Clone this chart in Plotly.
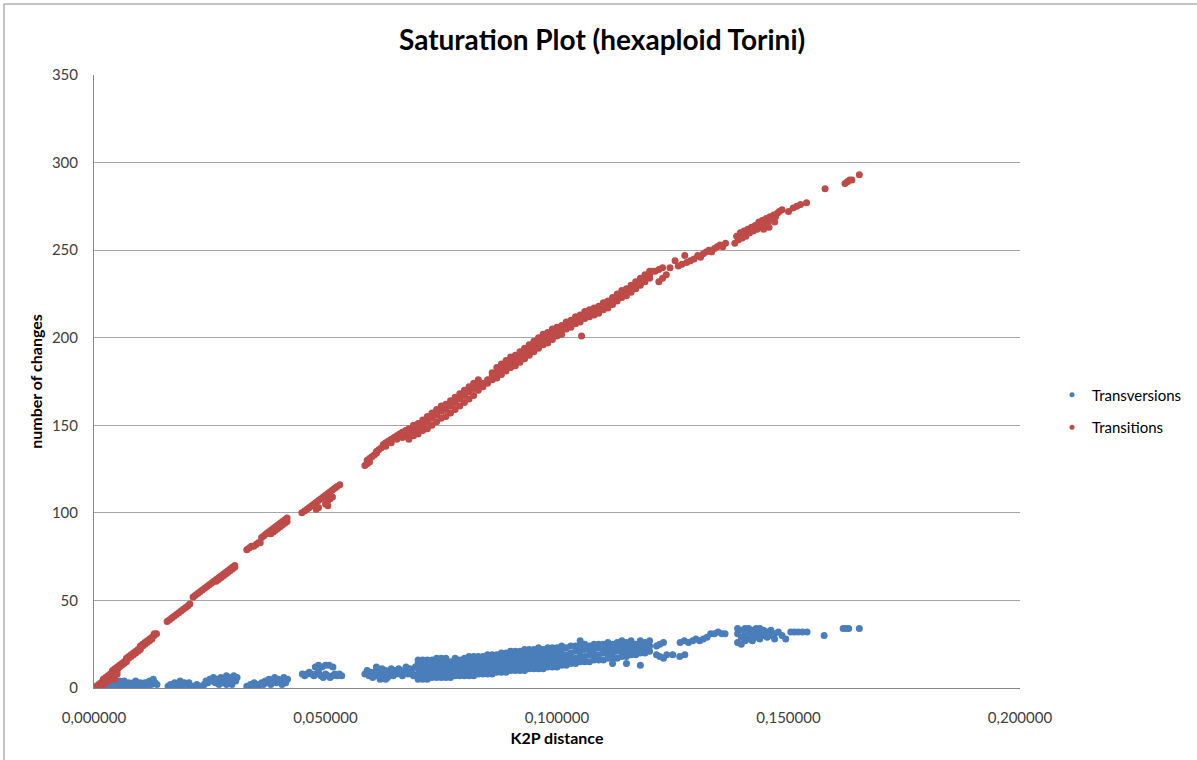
import plotly.graph_objects as go

# ---------------- data ----------------
# Each entry: (K2P distance, [number of changes observed at that distance])
transitions_cols = [
    (0.0000, [0]), (0.0005, [0, 1]), (0.0010, [1, 2]), (0.0015, [2, 3, 1]), (0.0020, [4, 5, 2]),
    (0.0025, [5, 6, 3]), (0.0030, [6, 7, 4]), (0.0035, [7, 8, 5]), (0.0040, [8, 9, 10, 6]),
    (0.0045, [9, 10, 11, 5]), (0.0050, [10, 11, 12, 8]), (0.0055, [12, 13]), (0.0060, [13, 14]),
    (0.0065, [14, 15]), (0.0070, [15, 16, 17]), (0.0075, [17, 18]), (0.0080, [18, 19]),
    (0.0085, [19, 20]), (0.0090, [20, 21]), (0.0095, [21, 22]), (0.0100, [22, 23, 24]),
    (0.0105, [24, 25]), (0.0110, [25, 26]), (0.0115, [26, 27]), (0.0120, [27, 28]),
    (0.0125, [28, 29]), (0.0130, [30, 31]), (0.0135, [31]),
    (0.0158, [38]), (0.0163, [39]), (0.0168, [40]), (0.0173, [41]), (0.0178, [42]), (0.0183, [43]),
    (0.0188, [44]), (0.0193, [45]), (0.0198, [46]), (0.0203, [47]), (0.0207, [48]),
    (0.0214, [52]), (0.0219, [53]), (0.0224, [54]), (0.0229, [55]), (0.0234, [56]), (0.0239, [57]),
    (0.0244, [58]), (0.0249, [59]), (0.0254, [60]), (0.0259, [61]), (0.0264, [62, 61]),
    (0.0269, [63, 62]), (0.0274, [64, 63]), (0.0279, [65, 64]), (0.0284, [66, 65]),
    (0.0289, [67, 66]), (0.0294, [68, 67]), (0.0299, [69, 68]), (0.0304, [70, 69]),
    (0.0330, [79]), (0.0335, [80]), (0.0340, [81]), (0.0345, [81]), (0.0350, [82]), (0.0355, [83]),
    (0.0359, [83]),
    (0.0362, [86]), (0.0367, [87]), (0.0372, [88]), (0.0377, [89]), (0.0382, [90, 88]),
    (0.0387, [91, 89]), (0.0392, [92, 90]), (0.0397, [93, 91]), (0.0402, [94, 92]),
    (0.0407, [95, 93]), (0.0412, [96, 94]), (0.0417, [97, 95]),
    (0.0449, [100]), (0.0455, [101]), (0.0460, [102]), (0.0465, [103]), (0.0470, [104]),
    (0.0475, [105]), (0.0480, [106, 102]), (0.0485, [107, 103]), (0.0490, [108]), (0.0495, [109]),
    (0.0500, [110, 105]), (0.0505, [111, 104, 107]), (0.0510, [112, 108]), (0.0515, [113, 109]),
    (0.0520, [114]), (0.0525, [115]), (0.0531, [116]),
    (0.0585, [127]), (0.0590, [128, 130]), (0.0595, [131, 129]), (0.0600, [132]), (0.0605, [133]),
    (0.0610, [134, 135]), (0.0615, [136]), (0.0620, [137]),
    (0.0625, [139]), (0.0630, [140, 138]), (0.0636, [141]), (0.0642, [142, 140]), (0.0648, [143]),
    (0.0654, [144, 142]), (0.0660, [145]), (0.0666, [146, 143]), (0.0673, [147, 144]),
    (0.068, [142, 145, 148]), (0.069, [144, 147, 150]), (0.070, [145, 148, 151]),
    (0.071, [147, 150, 153]), (0.072, [148, 152, 155]), (0.073, [150, 154, 157]),
    (0.074, [152, 156, 159]), (0.075, [154, 158, 161]), (0.076, [155, 159, 162]),
    (0.077, [157, 161, 164]), (0.078, [159, 163, 166]), (0.079, [161, 165, 168]),
    (0.080, [163, 167, 170]), (0.081, [165, 169, 172]), (0.082, [167, 171, 174]),
    (0.083, [170, 173, 176]), (0.084, [172, 174]), (0.085, [174, 176]),
    (0.086, [176, 178, 180]), (0.087, [177, 180, 183]), (0.088, [179, 182, 185]),
    (0.089, [181, 184, 187]), (0.090, [183, 186, 189]), (0.091, [184, 187, 190]),
    (0.092, [186, 189, 192]), (0.093, [188, 191, 194]), (0.094, [190, 193, 196]),
    (0.095, [192, 195, 198]), (0.096, [194, 197, 200]), (0.097, [196, 199, 202]),
    (0.098, [197, 200, 203]), (0.099, [199, 202, 205]), (0.100, [201, 204, 206]),
    (0.101, [202, 205, 207]), (0.102, [205, 207, 209]), (0.103, [206, 208, 210]),
    (0.104, [208, 210, 212]), (0.105, [209, 211, 213]), (0.1053, [201]),
    (0.106, [211, 213, 215]), (0.107, [212, 214, 216]), (0.108, [213, 215, 217]),
    (0.109, [214, 216, 218]), (0.110, [216, 218, 220]), (0.111, [217, 219, 221]),
    (0.112, [219, 221, 223]), (0.113, [221, 223, 225]), (0.114, [223, 225, 227]),
    (0.115, [224, 226, 228]), (0.116, [226, 228, 230]), (0.117, [228, 230, 232]),
    (0.118, [230, 232, 234]), (0.119, [232, 234, 236]), (0.120, [234, 236, 238]),
    (0.1205, [238]), (0.1212, [238]), (0.1220, [239, 232]), (0.1228, [240, 234]),
    (0.1236, [236]), (0.1244, [240]), (0.1255, [244]), (0.1262, [241]), (0.1270, [242]),
    (0.1276, [247]), (0.1280, [243]), (0.1288, [244]), (0.1296, [245]), (0.1304, [247]),
    (0.1310, [246]), (0.1316, [248]), (0.1322, [249]), (0.1328, [250]), (0.1334, [249]),
    (0.1340, [251]), (0.1346, [252]), (0.1352, [253]), (0.1358, [252]), (0.1364, [254]),
    (0.1384, [254]), (0.1388, [258]), (0.1392, [256]), (0.1396, [260]), (0.1400, [257]),
    (0.1404, [261]), (0.1408, [258]), (0.1412, [262]), (0.1416, [260]), (0.1420, [263]),
    (0.1424, [261]), (0.1428, [264]), (0.1432, [262]), (0.1436, [266]), (0.1440, [263]),
    (0.1444, [267]), (0.1446, [262]), (0.1448, [265]), (0.1452, [268]), (0.1456, [266]),
    (0.1458, [263]), (0.1460, [269]), (0.1464, [268]), (0.1468, [270]), (0.1470, [266]),
    (0.1472, [269]), (0.1476, [271]), (0.1480, [272]), (0.1486, [273]),
    (0.1500, [272]), (0.1510, [274]), (0.1518, [275]), (0.1526, [276]), (0.1539, [277]),
    (0.1579, [285]), (0.1622, [288]), (0.1627, [289]), (0.1632, [290]), (0.1637, [290]),
    (0.1653, [293]),
]

transversions_cols = [
    (0.0020, [1]), (0.0025, [0, 3]), (0.0030, [2, 4]), (0.0035, [1]), (0.0040, [0, 3]),
    (0.0045, [5, 2]), (0.0048, [3]), (0.0050, [1]), (0.0055, [2, 4]), (0.0060, [0, 3]),
    (0.0065, [1, 4]), (0.0070, [2]), (0.0075, [0, 3]), (0.0080, [1]), (0.0085, [3]),
    (0.0090, [2, 4]), (0.0095, [0]), (0.0100, [1, 3]), (0.0105, [2]), (0.0110, [1, 3]),
    (0.0115, [3]), (0.0120, [4, 2]), (0.0124, [2]), (0.0128, [5]), (0.0132, [3]), (0.0136, [2]),
    (0.0160, [1]), (0.0165, [2]), (0.0170, [0]), (0.0174, [3]), (0.0178, [1]), (0.0182, [2]),
    (0.0186, [4]), (0.0190, [1]), (0.0195, [3]), (0.0200, [2]), (0.0205, [3]), (0.0207, [1]),
    (0.0214, [1]), (0.0218, [0]), (0.0222, [2]), (0.0226, [0]), (0.0230, [1]), (0.0234, [0]),
    (0.0238, [2]), (0.0242, [4]), (0.0246, [3]), (0.0250, [5]), (0.0254, [4]), (0.0258, [6]),
    (0.0262, [3]), (0.0266, [5]), (0.0270, [4, 2]), (0.0274, [6]), (0.0278, [3]), (0.0282, [5]),
    (0.0286, [7, 2]), (0.0290, [4]), (0.0294, [6]), (0.0298, [5, 2]), (0.0302, [7]),
    (0.0306, [4]), (0.0309, [6]),
    (0.0330, [1]), (0.0334, [0]), (0.0338, [2]), (0.0342, [1]), (0.0346, [3]), (0.0350, [2]),
    (0.0354, [0]), (0.0358, [2]),
    (0.0362, [3]), (0.0366, [2]), (0.0370, [4]), (0.0374, [3]), (0.0378, [5]), (0.0382, [2]),
    (0.0386, [4]), (0.0390, [6]), (0.0394, [3]), (0.0398, [5]), (0.0402, [4]), (0.0406, [2]),
    (0.0410, [6]), (0.0414, [3]), (0.0418, [5]),
    (0.0450, [8]), (0.0455, [7]), (0.0460, [8]), (0.0465, [9]), (0.0470, [8]), (0.0475, [7]),
    (0.0478, [12]), (0.0480, [8]), (0.0485, [9, 13]), (0.0490, [7]), (0.0492, [12]),
    (0.0495, [6]), (0.0500, [8, 13]), (0.0505, [7]), (0.0508, [13]), (0.0510, [6]),
    (0.0515, [7]), (0.0516, [12]), (0.0520, [8]), (0.0525, [7]), (0.0530, [8]), (0.0535, [7]),
    (0.0585, [8]), (0.0590, [10]), (0.0594, [7]), (0.0598, [9]), (0.0602, [6]), (0.0606, [8]),
    (0.0610, [10, 12]), (0.0614, [7]), (0.0618, [9, 5]), (0.0622, [11]), (0.0626, [8]),
    (0.0630, [10, 5]), (0.0634, [6]), (0.0638, [9]), (0.0642, [11]), (0.0646, [7]),
    (0.0650, [10]), (0.0654, [8]), (0.0658, [11]), (0.0662, [9]), (0.0666, [7]),
    (0.0670, [10]), (0.0674, [12]), (0.0678, [8]), (0.0682, [11]), (0.0686, [9]),
    (0.0690, [7]), (0.0694, [12]),
    (0.0700, [5, 8, 11, 14, 16]), (0.0710, [5, 8, 11, 14, 16]), (0.0720, [5, 8, 11, 14, 16]),
    (0.0730, [6, 9, 12, 14, 16]), (0.0740, [6, 9, 12, 15, 17]), (0.0750, [6, 9, 12, 15, 17]),
    (0.0760, [6, 9, 12, 15, 17]), (0.0770, [6, 9, 12, 15]), (0.0780, [7, 10, 13, 15, 17]),
    (0.0790, [7, 10, 13, 16]), (0.0800, [7, 10, 13, 15, 17]), (0.0810, [7, 10, 13, 16, 18]),
    (0.0820, [7, 10, 13, 16, 18]), (0.0830, [8, 11, 14, 16, 18]), (0.0840, [8, 11, 14, 17, 18]),
    (0.0850, [8, 11, 14, 17, 19]), (0.0860, [8, 11, 14, 17, 19]), (0.0870, [9, 12, 15, 17, 19]),
    (0.0880, [9, 12, 15, 18, 20]), (0.0890, [9, 12, 15, 18, 20]), (0.0900, [10, 13, 16, 19, 21]),
    (0.0910, [10, 13, 16, 19, 21]), (0.0920, [10, 13, 16, 19, 21]), (0.0930, [10, 13, 16, 19, 22]),
    (0.0940, [11, 14, 17, 20, 22]), (0.0950, [11, 14, 17, 20, 22]), (0.0960, [11, 14, 17, 20, 23]),
    (0.0970, [11, 14, 17, 20, 22]), (0.0980, [12, 15, 18, 21, 23]), (0.0990, [12, 15, 18, 21, 23]),
    (0.1000, [12, 15, 18, 21, 23]),
    (0.101, [13, 16, 19, 22, 24]), (0.102, [13, 16, 19, 23]), (0.103, [14, 17, 20, 24]),
    (0.104, [14, 17, 21, 24]), (0.105, [15, 18, 21, 24, 27]), (0.106, [15, 18, 22, 25]),
    (0.107, [15, 19, 22, 24]), (0.108, [16, 19, 22, 25]), (0.109, [16, 19, 23, 25]),
    (0.110, [16, 20, 23, 25]), (0.111, [17, 20, 23, 26]), (0.112, [17, 20, 23, 25, 14]),
    (0.113, [17, 21, 24, 26]), (0.114, [18, 21, 24, 27]), (0.115, [18, 21, 24, 26, 14]),
    (0.116, [19, 22, 25, 27]), (0.117, [19, 22, 25]), (0.118, [20, 23, 26, 27, 13]),
    (0.119, [20, 23, 26]), (0.120, [21, 24, 27]),
    (0.1215, [19, 24]), (0.1222, [18, 25]), (0.1230, [17, 26]), (0.1237, [19]), (0.1250, [19]),
    (0.1265, [18]), (0.1276, [19]),
    (0.1266, [26]), (0.1275, [27]), (0.1284, [26]), (0.1293, [27]), (0.1300, [28]),
    (0.1308, [27]), (0.1316, [28]), (0.1324, [29]), (0.1332, [31]), (0.1340, [31]),
    (0.1348, [32]), (0.1356, [31]), (0.1363, [31]),
    (0.1390, [26, 31, 34]), (0.1398, [25, 29, 33]), (0.1406, [27, 30, 34]), (0.1414, [28, 32, 34]),
    (0.1422, [27, 30, 33]), (0.1430, [29, 32, 34]), (0.1438, [28, 31, 34]), (0.1446, [30, 33]),
    (0.1454, [29, 32]), (0.1462, [30, 33]), (0.1470, [31, 28]), (0.1478, [32]), (0.1486, [30]),
    (0.1494, [28]),
    (0.1505, [32]), (0.1513, [32]), (0.1521, [32]), (0.1530, [32]), (0.1540, [32]),
    (0.1577, [30]), (0.1618, [34]), (0.1624, [34]), (0.1630, [34]), (0.1653, [34]),
]

x_ticks = [0.0, 0.05, 0.1, 0.15, 0.2]
y_ticks = [0, 50, 100, 150, 200, 250, 300, 350]

series_names = ["Transversions", "Transitions"]
series_colors = ["#4A7EBB", "#BE4B48"]


def flatten(cols):
    xs, ys = [], []
    for x, yl in cols:
        for y in yl:
            xs.append(x)
            ys.append(y)
    return xs, ys


tv_x, tv_y = flatten(transversions_cols)
ts_x, ts_y = flatten(transitions_cols)

FONT = "Lato, 'Open Sans', sans-serif"

fig = go.Figure()
for xs, ys, name, color in [(tv_x, tv_y, series_names[0], series_colors[0]),
                            (ts_x, ts_y, series_names[1], series_colors[1])]:
    fig.add_trace(go.Scatter(
        x=xs, y=ys, mode="markers", name=name, showlegend=False,
        marker=dict(size=7, color=color, line=dict(width=0)),
    ))
# legend-only entries with the small Excel-style dot
for i, (name, color) in enumerate(zip(series_names, series_colors)):
    fig.add_trace(go.Scatter(
        x=[None], y=[None], mode="markers", name=name, legendgroup=str(i),
        marker=dict(size=5, color=color),
    ))

fig.update_layout(
    width=1197, height=760,
    paper_bgcolor="white", plot_bgcolor="white",
    margin=dict(l=94, r=177, t=75, b=72, autoexpand=False),
    separators=",.",
    title=dict(
        text="<b>Saturation Plot (hexaploid Torini)</b>",
        x=0.503, xref="container", xanchor="center",
        y=1 - 40 / 760, yref="container", yanchor="middle",
        font=dict(family=FONT, size=28, color="black"),
    ),
    font=dict(family=FONT, color="#595959"),
    legend=dict(
        x=(1052 - 94) / 926, xanchor="left", y=0.452, yanchor="middle",
        font=dict(family=FONT, size=15, color="black"),
        tracegroupgap=10, traceorder="grouped",
        bgcolor="rgba(0,0,0,0)",
    ),
    showlegend=True,
)

fig.update_xaxes(
    range=[0, 0.2], tickvals=x_ticks, tickformat=".6f",
    showgrid=False, zeroline=False,
    showline=True, linecolor="#868686", linewidth=1,
    ticks="", ticklabelstandoff=16,
    tickfont=dict(family=FONT, size=15, color="#404040"),
    title=dict(text="<b>K2P distance</b>", font=dict(family=FONT, size=16, color="black"), standoff=7),
)
fig.update_yaxes(
    range=[0, 350], tickvals=y_ticks,
    showgrid=True, gridcolor="#A6A6A6", gridwidth=1,
    zeroline=False,
    showline=True, linecolor="#868686", linewidth=1,
    ticks="", ticklabelstandoff=12,
    tickfont=dict(family=FONT, size=15, color="#404040"),
    title=dict(text="<b>number of changes</b>", font=dict(family=FONT, size=16, color="black"), standoff=5),
)

# outer chart frame (top and left edges visible in the picture)
fig.add_shape(type="rect", xref="paper", yref="paper",
              x0=(4 - 94) / 926, x1=(1300 - 94) / 926,
              y0=(688 - 800) / 613, y1=(688 - 4) / 613,
              line=dict(color="#898989", width=1), fillcolor="rgba(0,0,0,0)", layer="below")

fig.write_html("out.html")
